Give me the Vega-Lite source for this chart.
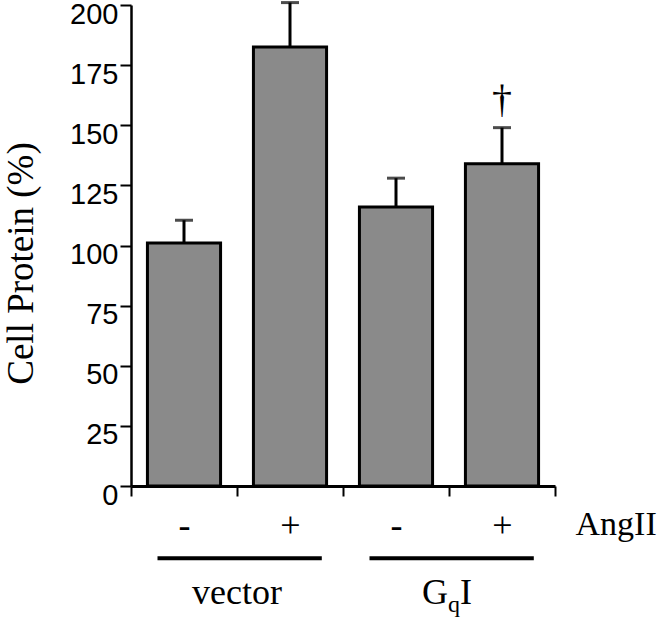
{
  "$schema": "https://vega.github.io/schema/vega-lite/v6.json",
  "autosize": "none",
  "padding": {"left": 131, "top": 5, "right": 107, "bottom": 132},
  "width": 424,
  "height": 481,
  "background": "white",
  "config": {
    "view": {"stroke": null},
    "axis": {"domainColor": "black", "tickColor": "black", "labelColor": "black", "titleColor": "black", "grid": false}
  },
  "datasets": {
    "bars": [
      {"cond": "vector -", "mean": 101, "upper": 110.5, "sig": ""},
      {"cond": "vector +", "mean": 182.5, "upper": 201, "sig": ""},
      {"cond": "GqI -", "mean": 116, "upper": 128, "sig": ""},
      {"cond": "GqI +", "mean": 134, "upper": 149, "sig": "†"}
    ],
    "groups": [
      {"group": "vector", "first": "vector -", "last": "vector +", "level": -30, "textLevel": -49},
      {"group": "GqI", "first": "GqI -", "last": "GqI +", "level": -30, "textLevel": -49}
    ]
  },
  "layer": [
    {
      "data": {"name": "bars"},
      "mark": {"type": "bar", "fill": "#8a8a8a", "stroke": "black", "strokeWidth": 3, "width": {"band": 0.69}},
      "encoding": {
        "x": {
          "field": "cond", "type": "nominal",
          "scale": {"domain": ["vector -", "vector +", "GqI -", "GqI +"], "padding": 0},
          "axis": {
            "orient": "bottom", "domainWidth": 3, "tickSize": 10, "tickWidth": 2, "tickBand": "extent",
            "labelFont": "Liberation Serif", "labelFontSize": 36, "labelBaseline": "alphabetic", "labelPadding": 40,
            "labelAngle": 0, "labelExpr": "split(datum.label, ' ')[1]",
            "title": "AngII", "titleFont": "Liberation Serif", "titleFontSize": 34, "titleFontWeight": "normal",
            "titleX": 444, "titleY": 48, "titleAlign": "left", "titleBaseline": "alphabetic", "titleAnchor": "start"
          }
        },
        "y": {
          "field": "mean", "type": "quantitative",
          "scale": {"domain": [0, 200], "nice": false},
          "axis": {
            "values": [0, 25, 50, 75, 100, 125, 150, 175, 200],
            "labelFont": "Liberation Sans", "labelFontSize": 29, "labelPadding": 2, "labelBaseline": "middle", "labelOffset": 9,
            "tickSize": 11, "tickWidth": 2, "domainWidth": 2.5,
            "title": "Cell Protein (%)", "titleFont": "Liberation Serif", "titleFontSize": 37, "titleFontWeight": "normal",
            "titleAngle": -90, "titleX": -99, "titleY": 258, "titleAlign": "center", "titleBaseline": "alphabetic"
          }
        }
      }
    },
    {
      "data": {"name": "bars"},
      "mark": {"type": "rule", "color": "black", "strokeWidth": 3},
      "encoding": {
        "x": {"field": "cond", "type": "nominal"},
        "y": {"field": "mean", "type": "quantitative"},
        "y2": {"field": "upper"}
      }
    },
    {
      "data": {"name": "bars"},
      "mark": {"type": "tick", "color": "black", "size": 18, "thickness": 3, "orient": "horizontal"},
      "encoding": {
        "x": {"field": "cond", "type": "nominal"},
        "y": {"field": "upper", "type": "quantitative"}
      }
    },
    {
      "data": {"name": "bars"},
      "transform": [{"filter": "datum.sig != ''"}],
      "mark": {"type": "text", "font": "Liberation Serif", "fontSize": 40, "color": "black", "baseline": "alphabetic", "dy": -16},
      "encoding": {
        "x": {"field": "cond", "type": "nominal"},
        "y": {"field": "upper", "type": "quantitative"},
        "text": {"field": "sig"}
      }
    },
    {
      "data": {"name": "groups"},
      "mark": {"type": "rule", "color": "black", "strokeWidth": 4},
      "encoding": {
        "x": {"field": "first", "type": "nominal", "bandPosition": 0.25},
        "x2": {"field": "last", "bandPosition": 0.8},
        "y": {"field": "level", "type": "quantitative"}
      }
    },
    {
      "data": {"name": "groups"},
      "transform": [{"filter": "datum.group == 'vector'"}],
      "mark": {"type": "text", "font": "Liberation Serif", "fontSize": 36, "color": "black", "baseline": "alphabetic", "align": "center"},
      "encoding": {
        "x": {"field": "first", "type": "nominal", "bandPosition": 1},
        "y": {"field": "textLevel", "type": "quantitative"},
        "text": {"field": "group"}
      }
    },
    {
      "data": {"name": "groups"},
      "transform": [{"filter": "datum.group == 'GqI'"}],
      "mark": {"type": "text", "text": "G", "font": "Liberation Serif", "fontSize": 36, "color": "black", "baseline": "alphabetic", "align": "right", "dx": -1},
      "encoding": {
        "x": {"field": "first", "type": "nominal", "bandPosition": 1},
        "y": {"field": "textLevel", "type": "quantitative"}
      }
    },
    {
      "data": {"name": "groups"},
      "transform": [{"filter": "datum.group == 'GqI'"}],
      "mark": {"type": "text", "text": "q", "font": "Liberation Serif", "fontSize": 24, "color": "black", "baseline": "alphabetic", "align": "left", "dx": -1, "dy": 8},
      "encoding": {
        "x": {"field": "first", "type": "nominal", "bandPosition": 1},
        "y": {"field": "textLevel", "type": "quantitative"}
      }
    },
    {
      "data": {"name": "groups"},
      "transform": [{"filter": "datum.group == 'GqI'"}],
      "mark": {"type": "text", "text": "I", "font": "Liberation Serif", "fontSize": 36, "color": "black", "baseline": "alphabetic", "align": "left", "dx": 11},
      "encoding": {
        "x": {"field": "first", "type": "nominal", "bandPosition": 1},
        "y": {"field": "textLevel", "type": "quantitative"}
      }
    }
  ]
}
